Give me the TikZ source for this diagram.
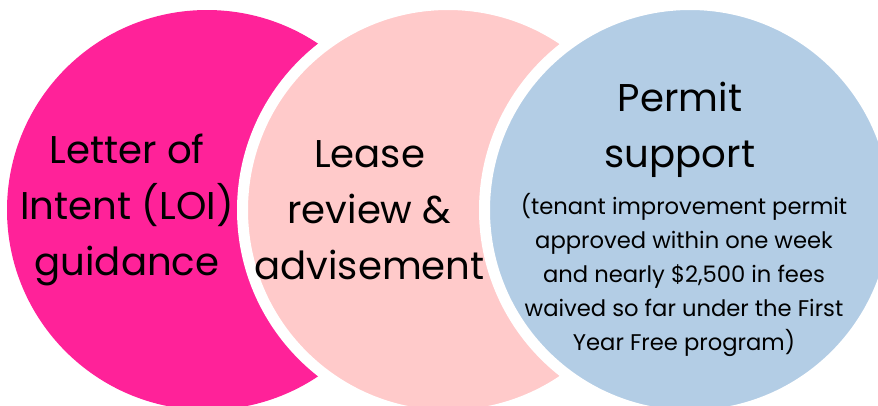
\documentclass[tikz,border=0pt]{standalone}
\usepackage{fontspec}
\setmainfont{Poppins}
\usepackage{tikz}
\usetikzlibrary{calc,positioning}
\definecolor{loipink}{RGB}{255,34,153}
\definecolor{leasepink}{RGB}{255,202,202}
\definecolor{permitblue}{RGB}{179,205,229}

\begin{document}
\begin{tikzpicture}
\useasboundingbox (0,0) rectangle (17.56,8.1);
\coordinate (c1) at (4.14,3.9);
\coordinate (c2) at (8.96,3.9);
\coordinate (c3) at (13.8,3.9);

% circles, each one laid over the previous with a white rim
\fill [loipink] (c1) circle (4.0);
\draw [white, line width=0.22cm, fill=leasepink] (c2) circle (4.11);
\draw [white, line width=0.22cm, fill=permitblue] (c3) circle (4.11);

\node (loi) [align=center, font=\fontsize{22}{31.9}\selectfont] at ($ (c1) - (1.6,0) $) {Letter of\\Intent (LOI)\\guidance};
\node (lease) [align=center, font=\fontsize{22}{31.9}\selectfont] at ($ (c2) - (1.57,0) $) {Lease\\review \&\\advisement};
\node (permit) [align=center, font=\fontsize{22}{31.9}\selectfont] at ($ (c3) + (-0.2,1.6) $) {Permit\\support};
\node (detail) [align=center, font=\fontsize{12.9}{19.4}\selectfont] at ($ (c3) + (-0.12,-1.3) $) {(tenant improvement permit\\approved within one week\\and nearly \$2,500 in fees\\waived so far under the First\\Year Free program)};
\end{tikzpicture}
\end{document}
